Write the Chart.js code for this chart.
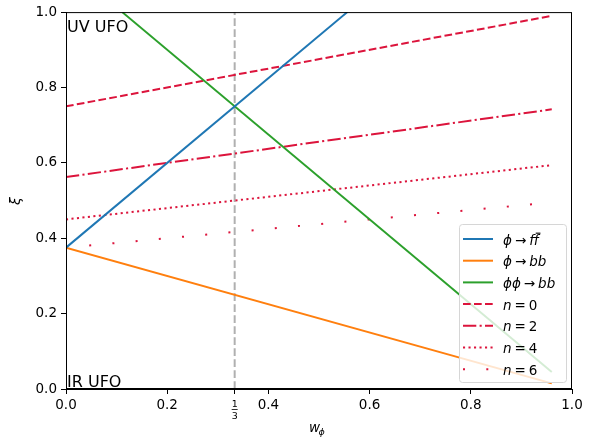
<!DOCTYPE html>
<html>
<head>
<meta charset="utf-8">
<script src="https://cdn.jsdelivr.net/npm/chart.js@4"></script>
<style>
  html, body { margin: 0; padding: 0; background: #fff; }
  #wrap { width: 590px; height: 437px; }
</style>
</head>
<body>
<div id="wrap"><canvas id="c" width="590" height="437"></canvas></div>
<script>
// Datos (extremos de cada recta)
const ffX = [0, 0.556], ffY = [0.375, 1.0];
const bbX = [0, 0.96], bbY = [0.375, 0.015];
const ppbbX = [0.111, 0.96], ppbbY = [1.0, 0.045];
const n0X = [0, 0.96], n0Y = [0.75, 0.99];
const n2X = [0, 0.96], n2Y = [0.5625, 0.742];
const n4X = [0, 0.96], n4Y = [0.45, 0.594];
const n6X = [0, 0.96], n6Y = [0.375, 0.495];
const vlineX = [1/3, 1/3], vlineY = [0, 1];
const xTicks = [0, 0.2, 1/3, 0.4, 0.6, 0.8, 1.0];
const yTicks = [0, 0.2, 0.4, 0.6, 0.8, 1.0];
const legendLabels = ['ff', 'bb', 'ppbb', 'n0', 'n2', 'n4', 'n6'];

const pts = (xs, ys) => xs.map((x, i) => ({ x: x, y: ys[i] }));
const crimson = '#dc143c';
const FONT = '"DejaVu Sans", sans-serif';

function ds(key, xs, ys, color, dash) {
  return { key: key, data: pts(xs, ys), borderColor: color, borderWidth: 2, borderDash: dash || [],
           showLine: true, pointRadius: 0, fill: false, borderCapStyle: 'butt' };
}

const datasets = [
  ds('ff', ffX, ffY, '#1f77b4'),
  ds('bb', bbX, bbY, '#ff7f0e'),
  ds('ppbb', ppbbX, ppbbY, '#2ca02c'),
  ds('n0', n0X, n0Y, crimson, [7.7, 3.3]),
  ds('n2', n2X, n2Y, crimson, [13.3, 3.3, 2.1, 3.3]),
  ds('n4', n4X, n4Y, crimson, [2.1, 3.4]),
  ds('n6', n6X, n6Y, crimson, [2, 21.3]),
  ds('vline', vlineX, vlineY, 'rgba(150,150,150,0.75)', [7.7, 3.3])
];

// dibujar texto con tramos en cursiva (linea base alfabetica)
function drawRuns(ctx, runs, x, y, size) {
  let cx = x;
  runs.forEach(r => {
    ctx.font = (r.it ? 'italic ' : '') + size + 'px ' + FONT;
    ctx.fillText(r.t, cx, y);
    const w = ctx.measureText(r.t).width;
    if (r.bar) {
      // barra sobre la ultima letra
      const lw = ctx.measureText(r.t.slice(-1)).width;
      ctx.fillRect(cx + w - lw + 1.5, y - size * 0.88, lw, 1.1);
    }
    cx += w + (r.gap || 0);
  });
}

const arrow = { t: '\u2192', gap: 3 };
const runsFor = {
  ff:   [{ t: '\u03d5', it: 1, gap: 3 }, arrow, { t: 'ff', it: 1, bar: 1 }],
  bb:   [{ t: '\u03d5', it: 1, gap: 3 }, arrow, { t: 'bb', it: 1 }],
  ppbb: [{ t: '\u03d5\u03d5', it: 1, gap: 3 }, arrow, { t: 'bb', it: 1 }],
  n0:   [{ t: 'n', it: 1, gap: 3 }, { t: '=', gap: 3 }, { t: '0' }],
  n2:   [{ t: 'n', it: 1, gap: 3 }, { t: '=', gap: 3 }, { t: '2' }],
  n4:   [{ t: 'n', it: 1, gap: 3 }, { t: '=', gap: 3 }, { t: '4' }],
  n6:   [{ t: 'n', it: 1, gap: 3 }, { t: '=', gap: 3 }, { t: '6' }]
};

const extras = {
  id: 'extras',
  afterDraw(chart) {
    const ctx = chart.ctx, a = chart.chartArea;
    const xs = chart.scales.x;
    ctx.save();
    // marco completo
    ctx.strokeStyle = '#000'; ctx.lineWidth = 1; ctx.setLineDash([]);
    ctx.strokeRect(a.left + 0.5, a.top + 0.5, a.right - a.left - 1, a.bottom - a.top - 1);

    // textos UV / IR
    ctx.fillStyle = '#000';
    ctx.textBaseline = 'alphabetic'; ctx.textAlign = 'left';
    ctx.font = '16px ' + FONT;
    ctx.fillText('UV UFO', a.left + 1, a.top + 20);
    ctx.fillText('IR UFO', a.left + 1, a.bottom - 2);

    // etiqueta 1/3
    const px = xs.getPixelForValue(1/3);
    ctx.font = '9.5px ' + FONT; ctx.textAlign = 'center';
    ctx.fillText('1', px, a.bottom + 18);
    ctx.fillRect(px - 3, a.bottom + 20, 6, 0.8);
    ctx.fillText('3', px, a.bottom + 30);

    // titulos de ejes
    ctx.textAlign = 'left';
    drawRuns(ctx, [{ t: 'w', it: 1 }], 309, 432, 13.5);
    ctx.font = 'italic 9.5px ' + FONT;
    ctx.fillText('\u03d5', 318.5, 435);
    ctx.save();
    ctx.translate(20, 201); ctx.rotate(-Math.PI / 2);
    ctx.textAlign = 'center';
    ctx.font = 'italic 14px ' + FONT;
    ctx.fillText('\u03be', 0, 0);
    ctx.restore();

    // leyenda
    const lx = 459, ly = 224, lw = 107, lh = 158;
    ctx.fillStyle = 'rgba(255,255,255,0.8)';
    ctx.strokeStyle = '#d6d6d6';
    ctx.beginPath();
    ctx.roundRect(lx + 0.5, ly + 0.5, lw, lh, 3);
    ctx.fill(); ctx.stroke();
    legendLabels.forEach((k, i) => {
      const d = chart.data.datasets.find(s => s.key === k);
      const y = ly + 15 + i * 21.7;
      ctx.strokeStyle = d.borderColor; ctx.lineWidth = 2; ctx.lineCap = 'butt';
      ctx.setLineDash(d.borderDash);
      ctx.beginPath(); ctx.moveTo(463, y); ctx.lineTo(493, y); ctx.stroke();
      ctx.setLineDash([]);
      ctx.fillStyle = '#000'; ctx.textBaseline = 'alphabetic'; ctx.textAlign = 'left';
      drawRuns(ctx, runsFor[k], 503, y + 5.5, 13.5);
    });
    ctx.restore();
  }
};

new Chart(document.getElementById('c'), {
  type: 'scatter',
  data: { datasets: datasets },
  options: {
    responsive: false,
    animation: false,
    events: [],
    layout: { padding: { top: 12, right: 18, left: 0, bottom: 0 } },
    plugins: { legend: { display: false }, tooltip: { enabled: false } },
    scales: {
      x: {
        type: 'linear', min: 0, max: 1,
        afterBuildTicks: s => { s.ticks = xTicks.map(v => ({ value: v })); },
        afterFit: s => { s.height = 48; },
        ticks: {
          color: '#000', font: { family: FONT, size: 13.5 }, padding: 3, maxRotation: 0,
          callback: v => Math.abs(v - 1/3) < 1e-9 ? '' : v.toFixed(1)
        },
        grid: { drawOnChartArea: false, drawTicks: true, tickLength: 5, color: '#000' },
        border: { color: '#000', width: 1 }
      },
      y: {
        type: 'linear', min: 0, max: 1,
        afterBuildTicks: s => { s.ticks = yTicks.map(v => ({ value: v })); },
        afterFit: s => { s.width = 66; },
        ticks: {
          color: '#000', font: { family: FONT, size: 13.5 }, padding: 4,
          callback: v => v.toFixed(1)
        },
        grid: { drawOnChartArea: false, drawTicks: true, tickLength: 5, color: '#000' },
        border: { color: '#000', width: 1 }
      }
    }
  },
  plugins: [extras]
});
</script>
</body>
</html>
